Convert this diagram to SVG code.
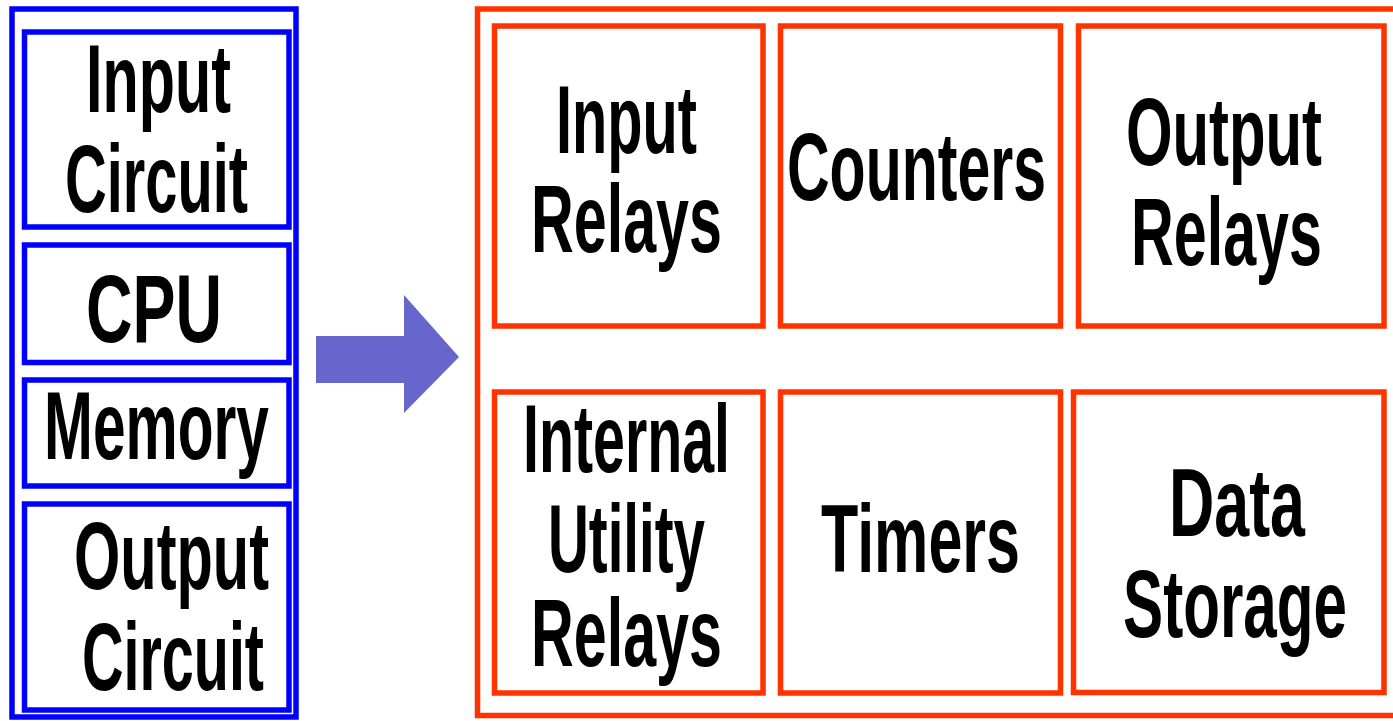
<svg xmlns="http://www.w3.org/2000/svg" width="1393" height="721" viewBox="0 0 1393 721">
  <style>
    .blue { fill: none; stroke: #0000FF; stroke-width: 5.5; }
    .red { fill: none; stroke: #FF3300; stroke-width: 5.5; }
    .lbl { font-family: "Liberation Sans", Arial, sans-serif; font-weight: bold; font-size: 97px; fill: #000; text-anchor: middle; }
  </style>
  <rect width="1393" height="721" fill="#FFFFFF"/>

  <!-- PLC hardware column -->
  <g id="hardware">
    <rect class="blue" x="12" y="9" width="284" height="708"/>
    <g id="input-circuit">
      <rect class="blue" x="24.5" y="32" width="264.5" height="195"/>
      <text class="lbl" x="158.5" y="112" textLength="145" lengthAdjust="spacingAndGlyphs">Input</text>
      <text class="lbl" x="156.5" y="212" textLength="183" lengthAdjust="spacingAndGlyphs">Circuit</text>
    </g>
    <g id="cpu">
      <rect class="blue" x="24.5" y="245" width="264.5" height="117.5"/>
      <text class="lbl" x="154" y="342" textLength="136" lengthAdjust="spacingAndGlyphs">CPU</text>
    </g>
    <g id="memory">
      <rect class="blue" x="24.5" y="380" width="264.5" height="106"/>
      <text class="lbl" x="156.5" y="459" textLength="225" lengthAdjust="spacingAndGlyphs">Memory</text>
    </g>
    <g id="output-circuit">
      <rect class="blue" x="24.5" y="504" width="264.5" height="206"/>
      <text class="lbl" x="171.5" y="589" textLength="195" lengthAdjust="spacingAndGlyphs">Output</text>
      <text class="lbl" x="173" y="690" textLength="182" lengthAdjust="spacingAndGlyphs">Circuit</text>
    </g>
  </g>

  <!-- block arrow between the panels -->
  <g id="connectors">
    <polygon points="316,336 404,336 404,295 459,357 404,413 404,383 316,383" fill="#6666CC"/>
  </g>

  <!-- memory areas panel -->
  <g id="memory-map">
    <rect class="red" x="477.5" y="9" width="930" height="706.5"/>
    <g id="input-relays">
      <rect class="red" x="494.5" y="26" width="268.5" height="300"/>
      <text class="lbl" x="626.5" y="153" textLength="141" lengthAdjust="spacingAndGlyphs">Input</text>
      <text class="lbl" x="626.5" y="252" textLength="191" lengthAdjust="spacingAndGlyphs">Relays</text>
    </g>
    <g id="counters">
      <rect class="red" x="780.5" y="26" width="280" height="300"/>
      <text class="lbl" x="916.5" y="200" textLength="259" lengthAdjust="spacingAndGlyphs">Counters</text>
    </g>
    <g id="output-relays">
      <rect class="red" x="1078.5" y="26" width="305.5" height="300"/>
      <text class="lbl" x="1224" y="165" textLength="196" lengthAdjust="spacingAndGlyphs">Output</text>
      <text class="lbl" x="1226.5" y="265" textLength="191" lengthAdjust="spacingAndGlyphs">Relays</text>
    </g>
    <g id="internal-utility-relays">
      <rect class="red" x="494.5" y="392" width="268.5" height="301"/>
      <text class="lbl" x="626.5" y="472" textLength="207" lengthAdjust="spacingAndGlyphs">Internal</text>
      <text class="lbl" x="626.5" y="572" textLength="157" lengthAdjust="spacingAndGlyphs">Utility</text>
      <text class="lbl" x="626.5" y="666" textLength="191" lengthAdjust="spacingAndGlyphs">Relays</text>
    </g>
    <g id="timers">
      <rect class="red" x="780.5" y="392" width="280" height="301"/>
      <text class="lbl" x="920.5" y="572" textLength="199" lengthAdjust="spacingAndGlyphs">Timers</text>
    </g>
    <g id="data-storage">
      <rect class="red" x="1073.5" y="392" width="310.5" height="300.5"/>
      <text class="lbl" x="1237" y="536" textLength="136" lengthAdjust="spacingAndGlyphs">Data</text>
      <text class="lbl" x="1235" y="637" textLength="224" lengthAdjust="spacingAndGlyphs">Storage</text>
    </g>
  </g>
</svg>
